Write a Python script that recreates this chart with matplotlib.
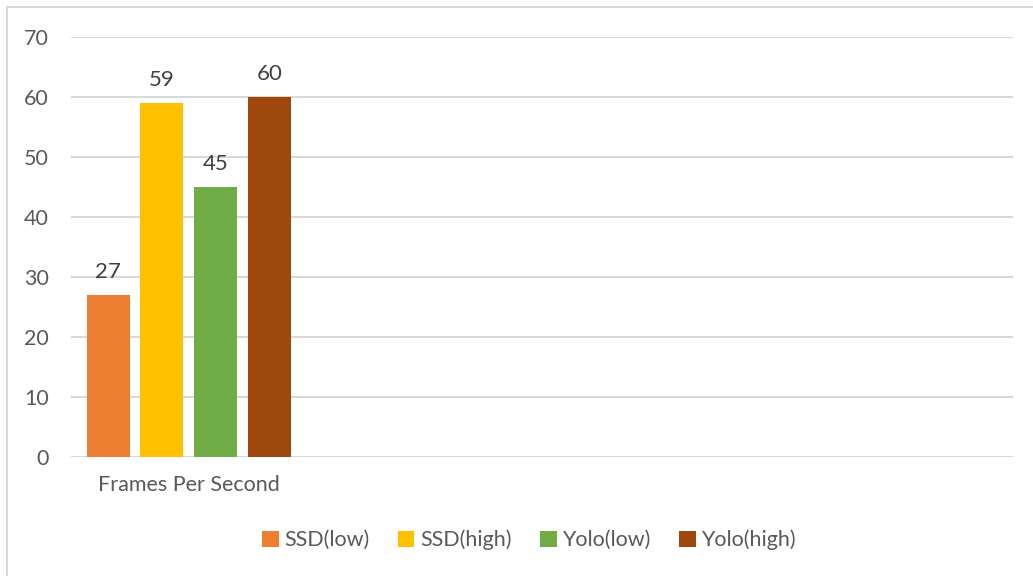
import matplotlib.pyplot as plt
import numpy as np
from matplotlib.patches import Rectangle

# data
categories = ["Frames Per Second", "", "", ""]
series_names = ["SSD(low)", "SSD(high)", "Yolo(low)", "Yolo(high)"]
series_values = [27, 59, 45, 60]
series_colors = ["#ED7D31", "#FFC000", "#70AD47", "#9E480E"]
y_ticks = [0, 10, 20, 30, 40, 50, 60, 70]

text_color = "#595959"
grid_color = "#D9D9D9"

plt.rcParams["font.family"] = ["Lato", "DejaVu Sans"]

fig = plt.figure(figsize=(10.33, 5.76), dpi=100)
ax = fig.add_axes([0.0687, 0.2071, 0.9119, 0.7292])

# outer chart border (left/top visible)
fig.patches.append(Rectangle((7 / 1033, -0.1), 1.2, 1.1 - 7 / 576,
                             transform=fig.transFigure, fill=False,
                             edgecolor=grid_color, linewidth=1.5))

step = 0.228
width = 0.183
offsets = (np.arange(len(series_names)) - 1.5) * step
for name, value, color, off in zip(series_names, series_values, series_colors, offsets):
    ax.bar([0 + off], [value], width=width, color=color, label=name, zorder=3)
    ax.annotate(str(value), (0 + off, value), xytext=(0, 9), textcoords="offset points",
                ha="center", va="bottom", fontsize=16, color="#404040")

ax.set_xlim(-0.5, 3.5)
ax.set_ylim(0, 70)
ax.set_yticks(y_ticks)
ax.set_xticks(range(len(categories)))
ax.set_xticklabels(categories)
ax.tick_params(axis="both", length=0, labelsize=15.5, colors=text_color)
ax.tick_params(axis="y", pad=16)
ax.tick_params(axis="x", pad=13)
ax.grid(axis="y", color=grid_color, linewidth=1.5, zorder=0)
for spine in ax.spines.values():
    spine.set_visible(False)

fig.legend(loc="center", bbox_to_anchor=(529 / 1033, 1 - 540 / 576), ncol=4,
           frameon=False, fontsize=15.5, labelcolor=text_color,
           handlelength=0.75, handleheight=0.75, handletextpad=0.25, columnspacing=1.35)

fig.savefig("out.png", dpi=100)
